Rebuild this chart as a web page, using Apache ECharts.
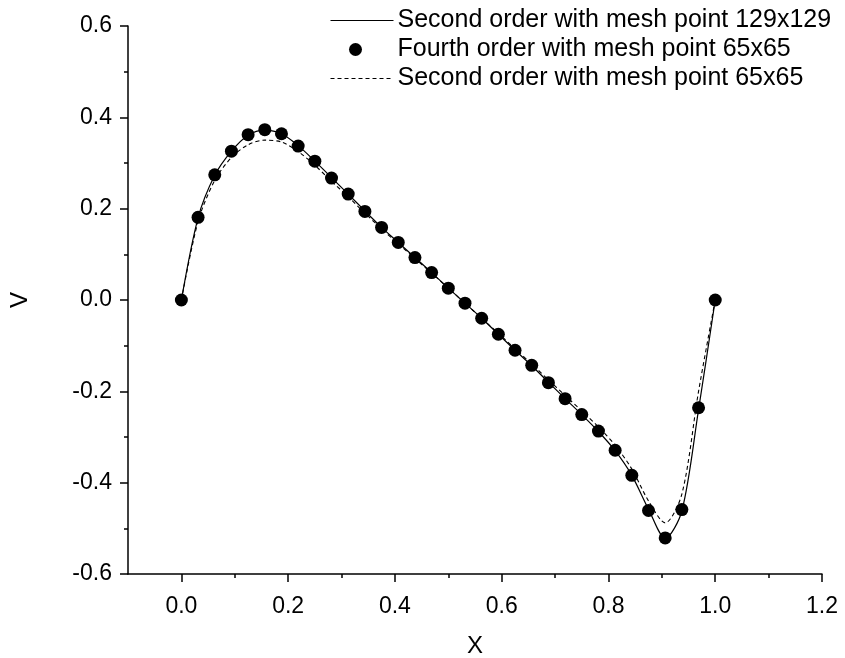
<!DOCTYPE html>
<html>
<head>
<meta charset="utf-8">
<script src="https://cdn.jsdelivr.net/npm/echarts@6/dist/echarts.min.js"></script>
<style>html,body{margin:0;padding:0;background:#fff}#c{width:845px;height:658px}</style>
</head>
<body>
<div id="c"></div>
<script>
const xs = [0,0.03125,0.0625,0.09375,0.125,0.15625,0.1875,0.21875,0.25,0.28125,0.3125,0.34375,0.375,0.40625,0.4375,0.46875,0.5,0.53125,0.5625,0.59375,0.625,0.65625,0.6875,0.71875,0.75,0.78125,0.8125,0.84375,0.875,0.90625,0.9375,0.96875,1];
const fourth65 = [0,0.181,0.274,0.326,0.362,0.373,0.364,0.337,0.304,0.267,0.232,0.194,0.159,0.126,0.093,0.060,0.026,-0.007,-0.040,-0.075,-0.110,-0.143,-0.181,-0.216,-0.251,-0.287,-0.329,-0.384,-0.461,-0.521,-0.459,-0.236,0];
const second129 = [0,0.180,0.273,0.326,0.361,0.372,0.364,0.338,0.304,0.268,0.232,0.195,0.159,0.126,0.093,0.060,0.026,-0.007,-0.040,-0.075,-0.110,-0.144,-0.180,-0.216,-0.251,-0.288,-0.330,-0.384,-0.458,-0.522,-0.462,-0.240,0];
const second65 = [0,0.172,0.262,0.312,0.340,0.350,0.346,0.325,0.295,0.260,0.226,0.190,0.156,0.123,0.091,0.059,0.026,-0.007,-0.040,-0.073,-0.107,-0.140,-0.175,-0.209,-0.243,-0.278,-0.318,-0.370,-0.440,-0.488,-0.425,-0.200,0];
const xMajor = [0,0.2,0.4,0.6,0.8,1.0,1.2];
const xMinor = [0.1,0.3,0.5,0.7,0.9,1.1];
const names = ['Second order with mesh point 129x129','Fourth order with mesh point 65x65','Second order with mesh point 65x65'];

const pairs = (a) => xs.map((x,i)=>[x,a[i]]);
const FONT = 'Liberation Sans, Arial, sans-serif';
const dotIcon = 'path://M18.5,6.5a6.5,6.5 0 1,0 13,0a6.5,6.5 0 1,0 -13,0Z M0,0L0,0 M63,13L63,13';
const chart = echarts.init(document.getElementById('c'), null, {renderer:'canvas'});
chart.setOption({
  animation:false,
  backgroundColor:'#fff',
  grid:{left:128,right:23,top:26,bottom:84, outerBoundsMode:'none', containLabel:false},
  legend:{
    orient:'vertical', left:325, top:3, itemWidth:63, itemHeight:13, itemGap:4,
    data:[
      {name:names[0], itemStyle:{opacity:0}, lineStyle:{width:1}},
      {name:names[1], icon:dotIcon},
      {name:names[2], itemStyle:{opacity:0}, lineStyle:{width:1}}
    ],
    textStyle:{fontFamily:FONT, fontSize:25, color:'#000', padding:[0,0,0,-1]}
  },
  xAxis:[{
    type:'value', min:-0.1, max:1.2,
    axisLine:{onZero:false, lineStyle:{color:'#000', width:1.5}},
    axisTick:{show:true, inside:false, length:8, lineStyle:{color:'#000', width:1.5}, customValues:xMajor},
    axisLabel:{customValues:xMajor, formatter:(v)=>v.toFixed(1), margin:21, fontFamily:FONT, fontSize:23, color:'#000'},
    splitLine:{show:false},
    name:'X', nameLocation:'middle', nameGap:60, nameTextStyle:{fontFamily:FONT, fontSize:24, color:'#000'}
  },{
    type:'value', min:-0.1, max:1.2, position:'bottom',
    axisLine:{show:false, onZero:false},
    axisTick:{show:true, inside:false, length:4, lineStyle:{color:'#000', width:1.5}, customValues:xMinor},
    axisLabel:{show:false},
    splitLine:{show:false}
  }],
  yAxis:{
    type:'value', min:-0.6, max:0.6, interval:0.2,
    axisLine:{show:true, onZero:false, lineStyle:{color:'#000', width:1.5}},
    axisTick:{show:true, inside:false, length:8, lineStyle:{color:'#000', width:1.5}},
    minorTick:{show:true, splitNumber:2, length:4, lineStyle:{color:'#000', width:1.5}},
    axisLabel:{formatter:(v)=>v.toFixed(1), margin:16, fontFamily:FONT, fontSize:23, color:'#000'},
    splitLine:{show:false},
    name:'V', nameLocation:'middle', nameGap:96, nameTextStyle:{fontFamily:FONT, fontSize:24, color:'#000'}
  },
  series:[
    {name:names[0], type:'line', data:pairs(second129), smooth:0.3, showSymbol:false, symbol:'none',
     lineStyle:{color:'#000', width:1.2}, itemStyle:{color:'#000'}, z:3},
    {name:names[1], type:'scatter', data:pairs(fourth65), symbol:'circle', symbolSize:13,
     itemStyle:{color:'#000', opacity:1}, z:4},
    {name:names[2], type:'line', data:pairs(second65), smooth:0.3, showSymbol:false, symbol:'none',
     lineStyle:{color:'#000', width:1.1, type:[4,3]}, itemStyle:{color:'#000'}, z:2}
  ]
});
</script>
</body>
</html>
